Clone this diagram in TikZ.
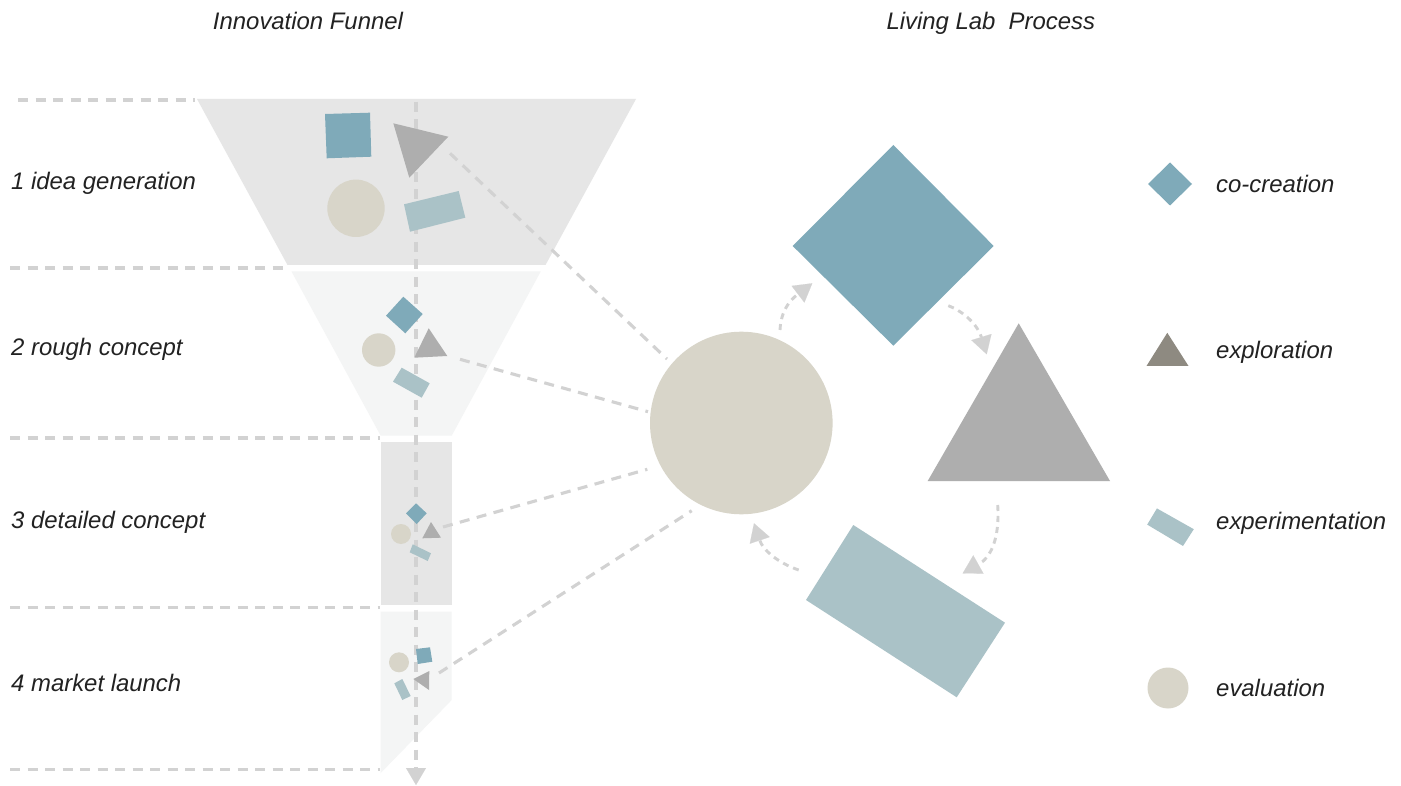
\documentclass[tikz,border=0pt]{standalone}
\usepackage{fontspec}
\setmainfont{Liberation Sans}
\usetikzlibrary{arrows.meta}

\definecolor{cocreate}{HTML}{7FAAB9}
\definecolor{explore}{HTML}{AEAEAE}
\definecolor{explorekey}{HTML}{8E8A81}
\definecolor{experiment}{HTML}{AAC2C7}
\definecolor{evaluate}{HTML}{D8D5C9}
\definecolor{stagedark}{HTML}{E6E6E6}
\definecolor{stagelight}{HTML}{F4F5F5}
\definecolor{guide}{HTML}{D2D2D2}
\definecolor{ink}{HTML}{222222}

\begin{document}
\begin{tikzpicture}[x=1pt,y=-1pt,
  guideline/.style={draw=guide, line width=3.1pt, dash pattern=on 10pt off 7.5pt},
  cyclearrow/.style={draw=guide, line width=2.9pt, dash pattern=on 6pt off 5pt,
    -{Triangle[length=18pt,width=21pt,line width=0.1pt]}},
  stagetext/.style={anchor=base west, inner sep=0pt, text=ink,
    font=\fontsize{23.9}{28}\selectfont\itshape},
  headtext/.style={anchor=base, inner sep=0pt, text=ink,
    font=\fontsize{23.9}{28}\selectfont\itshape}]

\fill[white] (0,0) rectangle (1401,786);
\useasboundingbox (0,0) rectangle (1401,786);

% ---------- funnel stages ----------
\fill[stagedark]  (197,99) -- (636,99) -- (545.5,265) -- (287.5,265) -- cycle;
\fill[stagelight] (291.5,271.5) -- (540.7,271.5) -- (451.7,435.7) -- (380.7,435.7) -- cycle;
\fill[stagedark]  (380.7,441.5) rectangle (451.7,605.3);
\fill[stagelight] (380.7,611.5) -- (451.7,611.5) -- (451.7,700) -- (380.7,773) -- cycle;

% stage separators
\draw[guideline] (18,100) -- (195,100);
\draw[guideline] (10,268) -- (290,268);
\draw[guideline] (10,438) -- (380,438);
\draw[guideline] (10,607.5) -- (380,607.5);
\draw[guideline] (10,769.5) -- (380,769.5);

% time axis through the funnel
\coordinate (axistop) at (416,102);
\coordinate (axisend) at (416,785);
\draw[guideline, -{Triangle[length=17pt,width=20pt,line width=0.1pt]}] (axistop) -- (axisend);

% ---------- links from evaluation to each stage ----------
\coordinate (s1) at (450,153.3);  \coordinate (e1) at (667,359);
\coordinate (s2) at (460,359.3);  \coordinate (e2) at (648,411.7);
\coordinate (s3) at (443,527);    \coordinate (e3) at (647.3,469.3);
\coordinate (s4) at (439,673);    \coordinate (e4) at (691.7,510.7);
\draw[guideline] (s1) -- (e1);
\draw[guideline] (s2) -- (e2);
\draw[guideline] (s3) -- (e3);
\draw[guideline] (s4) -- (e4);

% ---------- stage 1 shapes ----------
\fill[cocreate]   (325,114) -- (370,112.7) -- (371.3,156.7) -- (326.7,158.3) -- cycle;
\fill[explore]    (393.3,123.3) -- (448.3,136.7) -- (409.3,177.7) -- cycle;
\fill[evaluate]   (356,208.3) circle[radius=28.7];
\fill[experiment] (404,204.3) -- (458.7,191) -- (465.3,217.7) -- (410,231.7) -- cycle;

% ---------- stage 2 shapes ----------
\fill[cocreate]   (403.3,296.7) -- (422.7,314) -- (405.3,333.3) -- (386,315.7) -- cycle;
\fill[evaluate]   (378.7,350) circle[radius=16.7];
\fill[explore]    (428.7,328.3) -- (447.3,356) -- (414.3,357.7) -- cycle;
\fill[experiment] (401.7,367.7) -- (429.7,383.3) -- (421.7,397.7) -- (393,381.7) -- cycle;

% ---------- stage 3 shapes ----------
\fill[cocreate]   (416,503.3) -- (426.7,513.3) -- (416.7,524) -- (406,513.3) -- cycle;
\fill[evaluate]   (401,534) circle[radius=10];
\fill[explore]    (431,522) -- (441,537.7) -- (422.3,538.3) -- cycle;
\fill[experiment] (412.7,544.3) -- (431,553.3) -- (427.7,561) -- (409.7,552.3) -- cycle;

% ---------- stage 4 shapes ----------
\fill[evaluate]   (399,662.3) circle[radius=10];
\fill[cocreate]   (416,649) -- (430,647.3) -- (432.3,661.7) -- (417.7,664) -- cycle;
\fill[explore]    (413.3,679) -- (429.3,671) -- (429,690) -- cycle;
\fill[experiment] (394.3,683.3) -- (402.3,679) -- (410.7,696) -- (402.3,700) -- cycle;

% ---------- living lab cycle ----------
\fill[evaluate]   (741.3,423) circle[radius=91.3];
\fill[cocreate]   (893.3,145) -- (993.7,246) -- (893.3,345.7) -- (792.7,246) -- cycle;
\fill[explore]    (1018.7,323.3) -- (1110,481) -- (927.7,481) -- cycle;
\fill[experiment] (853.3,525) -- (1005,622.7) -- (956.7,697.3) -- (806,600) -- cycle;

\coordinate (evalout)   at (780,330);
\coordinate (cocin)     at (812.3,283.3);
\coordinate (cocout)    at (948.3,305.7);
\coordinate (expin)     at (986.7,354.3);
\coordinate (expout)    at (997.7,505);
\coordinate (testin)    at (962.7,573.3);
\coordinate (testout)   at (798.7,570);
\coordinate (evalin)    at (754,523.3);

\draw[cyclearrow] (evalout) .. controls (781,305) and (797,295) .. (cocin);
\draw[cyclearrow] (cocout)  .. controls (965,312) and (978,326) .. (expin);
\draw[cyclearrow] (expout)  .. controls (1000,540) and (990,558) .. (testin);
\draw[cyclearrow] (testout) .. controls (778,563) and (763,550) .. (evalin);

% ---------- legend ----------
\fill[cocreate]   (1170,162.5) -- (1192,184) -- (1170,205.5) -- (1148,184) -- cycle;
\fill[explorekey] (1167.3,332.8) -- (1188.5,366) -- (1146.5,366) -- cycle;
\fill[experiment] (1156.9,508.4) -- (1193.8,529.2) -- (1183,546) -- (1147.2,524.6) -- cycle;
\fill[evaluate]   (1168,688) circle[radius=20.5];

% ---------- text ----------
\node[headtext] (funneltitle) at (308,30) {Innovation Funnel};
\node[headtext] (labtitle) at (990.8,29.5) {Living Lab\ \ Process};

\node[stagetext] (st1) at (11,189.5) {1 idea generation};
\node[stagetext] (st2) at (11,356) {2 rough concept};
\node[stagetext] (st3) at (11,528) {3 detailed concept};
\node[stagetext] (st4) at (11,691.5) {4 market launch};

\node[stagetext] (k1) at (1216,192.3) {co-creation};
\node[stagetext] (k2) at (1216,358.5) {exploration};
\node[stagetext] (k3) at (1216,529.2) {experimentation};
\node[stagetext] (k4) at (1216,696) {evaluation};

\end{tikzpicture}
\end{document}
